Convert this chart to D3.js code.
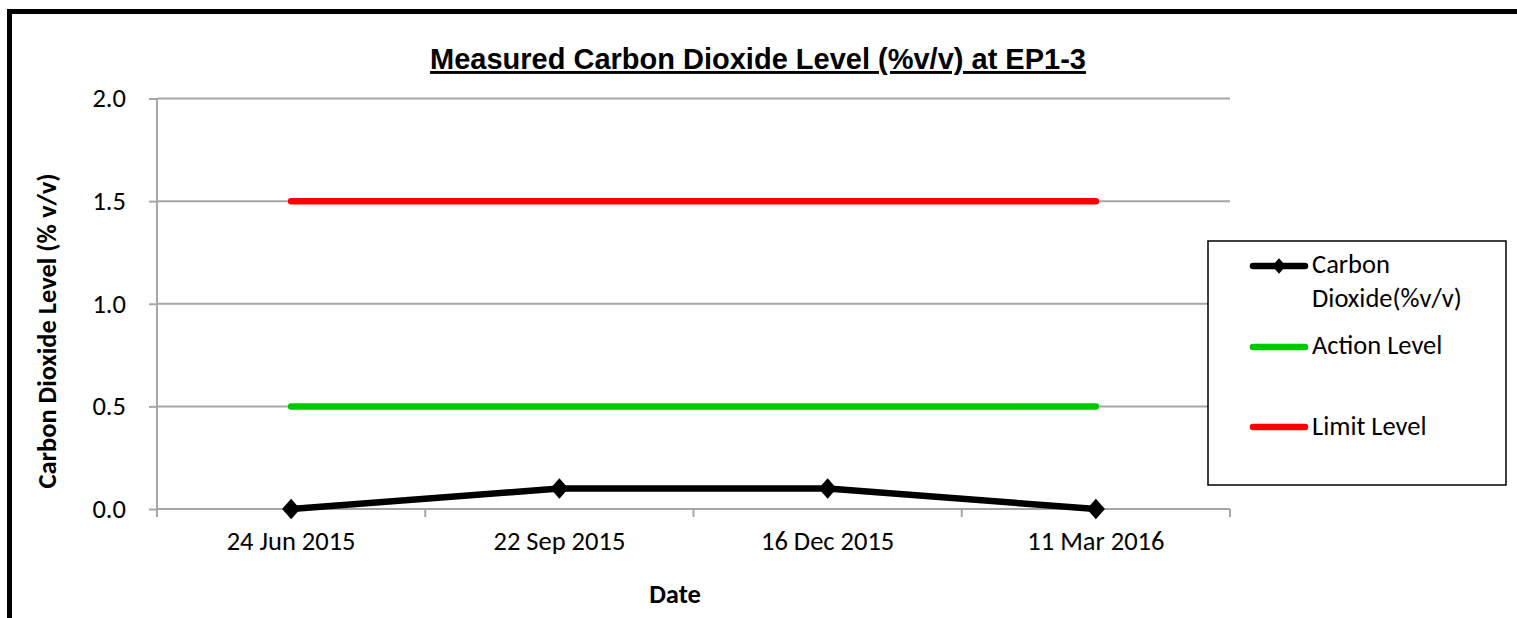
<!DOCTYPE html>
<html><head><meta charset="utf-8">
<script src="https://cdn.jsdelivr.net/npm/d3@7"></script>
<style>body{margin:0;background:#fff;overflow:hidden}svg{display:block}</style>
</head><body>
<svg id="c" width="1517" height="618"></svg>
<script>
const categories = ["24 Jun 2015", "22 Sep 2015", "16 Dec 2015", "11 Mar 2016"];
const co2Values = [0.0, 0.1, 0.1, 0.0];
const actionValues = [0.5, 0.5, 0.5, 0.5];
const limitValues = [1.5, 1.5, 1.5, 1.5];
const yTicks = [0, 0.5, 1.0, 1.5, 2.0];
const seriesNames = ["Carbon Dioxide(%v/v)", "Action Level", "Limit Level"];

(function () {
const svg = d3.select("#c");
const font = "Carlito, Calibri, 'Open Sans', sans-serif";
const fs = 26.5;
svg.append("rect").attr("x", 9.5).attr("y", 11.5).attr("width", 1560).attr("height", 700)
  .attr("fill", "#fff").attr("stroke", "#000").attr("stroke-width", 5);

const pL = 157, pR = 1230, pT = 98.5, pB = 509;
const x = d3.scaleBand().domain(categories).range([pL, pR]);
const y = d3.scaleLinear().domain([0, 2]).range([pB, pT]);

svg.append("g").selectAll("line").data(yTicks.filter(d => d > 0)).join("line")
  .attr("x1", pL).attr("x2", pR).attr("y1", d => y(d)).attr("y2", d => y(d))
  .attr("stroke", "#a6a6a6").attr("stroke-width", 2);

const ya = svg.append("g").attr("transform", `translate(${pL},0)`)
  .call(d3.axisLeft(y).tickValues(yTicks).tickFormat(d3.format(".1f")).tickSize(8).tickPadding(23));
ya.select(".domain").attr("stroke", "#a6a6a6").attr("stroke-width", 2).attr("d", `M0,${pT}V${pB}`);
ya.selectAll(".tick line").attr("stroke", "#a6a6a6").attr("stroke-width", 2);
ya.selectAll("text").attr("font-family", font).attr("font-size", fs).attr("fill", "#000");

const xa = svg.append("g").attr("transform", `translate(0,${pB})`)
  .call(d3.axisBottom(x).tickSize(0).tickPadding(22));
xa.select(".domain").attr("stroke", "#a6a6a6").attr("stroke-width", 2).attr("d", `M${pL},0H${pR}`);
xa.selectAll("text").attr("font-family", font).attr("font-size", fs).attr("fill", "#000");
const bounds = categories.map(c => x(c)).concat([pR]);
xa.selectAll(".bt").data(bounds).join("line").attr("class", "bt")
  .attr("x1", d => d).attr("x2", d => d).attr("y1", 0).attr("y2", 8)
  .attr("stroke", "#a6a6a6").attr("stroke-width", 2);

const cx = c => x(c) + x.bandwidth() / 2;
const line = d3.line().x((d, i) => cx(categories[i])).y(d => y(d));

svg.append("path").datum(limitValues).attr("d", line).attr("fill", "none")
  .attr("stroke", "#ff0000").attr("stroke-width", 6.5).attr("stroke-linecap", "round");
svg.append("path").datum(actionValues).attr("d", line).attr("fill", "none")
  .attr("stroke", "#00c800").attr("stroke-width", 6.5).attr("stroke-linecap", "round");
svg.append("path").datum(co2Values).attr("d", line).attr("fill", "none")
  .attr("stroke", "#000").attr("stroke-width", 6.5).attr("stroke-linejoin", "round");
const diamond = d3.symbol().type(d3.symbolDiamond2).size(210);
svg.append("g").selectAll("path").data(co2Values).join("path")
  .attr("transform", (d, i) => `translate(${cx(categories[i])},${y(d)}) scale(1,1.12)`)
  .attr("d", diamond).attr("fill", "#000");

svg.append("text").attr("x", 758).attr("y", 69).attr("text-anchor", "middle")
  .attr("font-family", "'Liberation Sans', Arial, sans-serif").attr("font-weight", "bold")
  .attr("font-size", 29).attr("text-decoration", "underline")
  .text("Measured Carbon Dioxide Level (%v/v) at EP1-3");

svg.append("text").attr("transform", "translate(56,331) rotate(-90)").attr("text-anchor", "middle")
  .attr("font-family", font).attr("font-weight", "bold").attr("font-size", fs)
  .text("Carbon Dioxide Level (% v/v)");
svg.append("text").attr("x", 675).attr("y", 603).attr("text-anchor", "middle")
  .attr("font-family", font).attr("font-weight", "bold").attr("font-size", fs).text("Date");

const lg = svg.append("g");
lg.append("rect").attr("x", 1208).attr("y", 241).attr("width", 298).attr("height", 244)
  .attr("fill", "#fff").attr("stroke", "#000").attr("stroke-width", 1.5);
const legendRows = [
  {name: seriesNames[0], color: "#000", y: 266, ty: 273, marker: true, lines: ["Carbon", "Dioxide(%v/v)"]},
  {name: seriesNames[1], color: "#00c800", y: 347, ty: 354, marker: false, lines: ["Action Level"]},
  {name: seriesNames[2], color: "#ff0000", y: 427, ty: 435, marker: false, lines: ["Limit Level"]}
];
legendRows.forEach(r => {
  lg.append("line").attr("x1", 1253).attr("x2", 1305).attr("y1", r.y).attr("y2", r.y)
    .attr("stroke", r.color).attr("stroke-width", 6.5).attr("stroke-linecap", "round");
  if (r.marker) lg.append("path").attr("transform", `translate(1279,${r.y}) scale(1,1.12)`)
    .attr("d", d3.symbol().type(d3.symbolDiamond2).size(120)).attr("fill", "#000");
  const t = lg.append("text").attr("x", 1312).attr("y", r.ty)
    .attr("font-family", font).attr("font-size", fs).attr("fill", "#000");
  r.lines.forEach((s, i) => t.append("tspan").attr("x", 1312).attr("dy", i ? 34 : 0).text(s));
});
})();
</script>
</body></html>
